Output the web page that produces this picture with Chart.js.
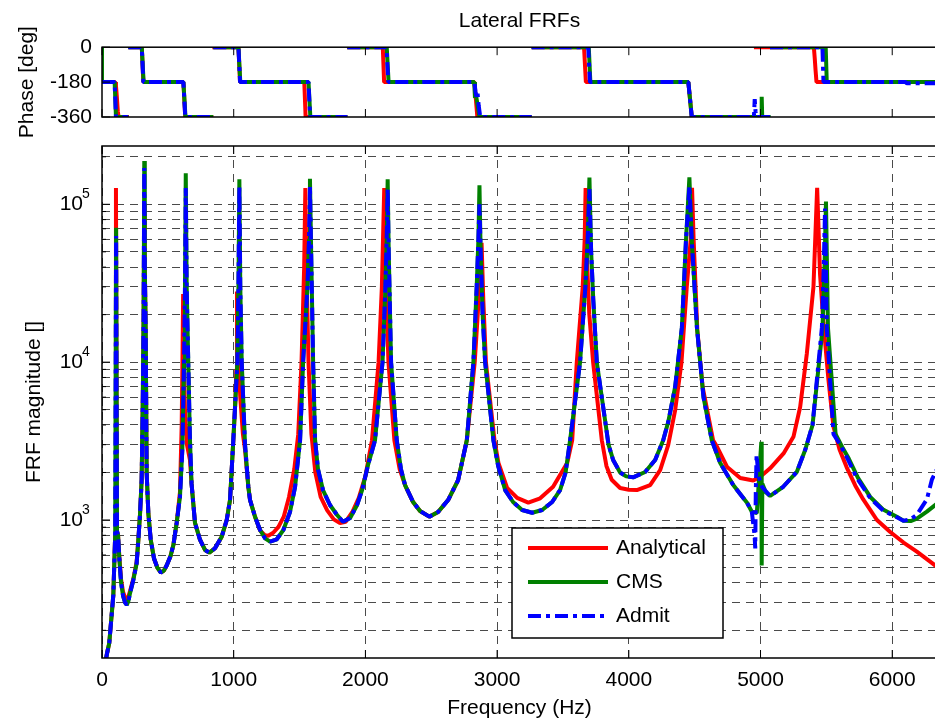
<!DOCTYPE html>
<html>
<head>
<meta charset="utf-8">
<title>Lateral FRFs</title>
<script src="https://cdn.jsdelivr.net/npm/chart.js@4.4.1/dist/chart.umd.min.js"></script>
<style>
  html, body { margin: 0; padding: 0; background: #fff; }
  #fig { position: relative; width: 935px; height: 721px; overflow: hidden; background: #fff; }
  #fig canvas { position: absolute; left: 0; }
  #phaseCanvas { top: 0; z-index: 2; }
  #magCanvas { top: 130px; z-index: 1; }
</style>
</head>
<body>
<div id="fig">
  <canvas id="phaseCanvas" width="940" height="145"></canvas>
  <canvas id="magCanvas" width="940" height="591"></canvas>
</div>
<script>
// axis ticks
const freqTicks = [0, 1000, 2000, 3000, 4000, 5000, 6000];
const phaseTicks = [-360, -180, 0];
const magLabelTicks = [1e3, 1e4, 1e5];
const magGridTicks = [200, 300, 400, 500, 600, 700, 800, 900,
  1000, 2000, 3000, 4000, 5000, 6000, 7000, 8000, 9000,
  10000, 20000, 30000, 40000, 50000, 60000, 70000, 80000, 90000,
  100000, 200000];
const magMinorTicks = magGridTicks.filter(v => !magLabelTicks.includes(v));

// phase [Hz, deg], null = wrap break
const analyticalPhase = [[0,-180],[100,-180],[106,-200],[112,-250],[120,-330],[126,-360],[205,-360],[200,null],
  [200,0],[302,0],[314,-180],[618,-180],[632,-360],[845,-360],[838,null],
  [838,0],[1036,0],[1048,-180],[1536,-180],[1546,-360],[1863,-360],[1860,null],
  [1860,0],[2132,0],[2142,-180],[2828,-180],[2850,-360],[3262,-360],[3262,null],
  [3262,0],[3660,0],[3674,-180],[4452,-180],[4478,-360],[4955,-360],[4950,null],
  [4950,0],[5405,0],[5412,-60],[5418,-120],[5425,-180],[6340,-180]];
const cmsPhase = [[0,0],[0,-180],[96,-180],[106,-360],[200,-360],[200,null],
  [200,0],[302,0],[316,-180],[618,-180],[634,-360],[845,-360],[845,null],
  [845,0],[1036,0],[1050,-180],[1568,-180],[1582,-360],[1863,-360],[1863,null],
  [1863,0],[2162,0],[2176,-180],[2826,-180],[2832,-262],[2840,-248],[2852,-300],[2866,-360],[3262,-360],[3262,null],
  [3262,0],[3696,0],[3708,-180],[4452,-180],[4478,-360],[5004,-360],[5009,-256],[5013,-360],[5077,-360],[5072,null],
  [5072,0],[5495,0],[5503,-180],[6340,-180]];
const admitPhase = [[0,-180],[96,-180],[106,-360],[200,-360],[200,null],
  [200,0],[302,0],[314,-180],[618,-180],[632,-360],[845,-360],[845,null],
  [845,0],[1036,0],[1048,-180],[1568,-180],[1580,-360],[1863,-360],[1863,null],
  [1863,0],[2160,0],[2174,-180],[2828,-180],[2836,-230],[2846,-262],[2852,-240],[2860,-300],[2872,-360],[3262,-360],[3262,null],
  [3262,0],[3692,0],[3705,-180],[4452,-180],[4478,-360],[4950,-360],[4956,-268],[4962,-330],[4966,-360],[5077,-360],[5072,null],
  [5072,0],[5470,0],[5478,-180],[6100,-180],[6110,-186],[6340,-186]];

// FRF magnitude [Hz, value]
const analyticalMag = [[28,128],[36,140],[55,166],[68,222],[86,335],[100,800],[106,127000],[114,850],[122,800],[132,580],
  [145,420],[160,350],[175,322],[188,316],[200,326],[213,355],[238,425],[263,540],[276,750],[289,1100],
  [301,1800],[310,6000],[316,20000],[321,100000],[325,40000],[332,15000],[339,2000],[352,1100],[370,750],[395,570],
  [420,500],[447,464],[470,478],[491,515],[520,590],[542,695],[567,960],[592,1500],[605,4000],[612,12000],
  [616,27000],[622,10000],[630,5000],[645,3000],[668,2400],[680,1700],[706,960],[744,750],[782,646],[815,621],
  [858,662],[909,784],[947,1000],[972,1338],[997,3200],[1012,5500],[1020,9000],[1025,28000],[1032,12000],[1050,6000],
  [1070,3500],[1086,2800],[1111,1624],[1124,1338],[1162,1049],[1200,860],[1238,800],[1263,795],[1300,830],[1340,905],
  [1380,1050],[1420,1400],[1460,2100],[1490,3500],[1515,10000],[1535,40000],[1544,127000],[1552,40000],[1568,10000],[1590,3500],
  [1620,2000],[1660,1400],[1710,1150],[1760,1010],[1807,955],[1850,975],[1900,1120],[1950,1380],[2000,1900],[2050,3200],
  [2100,10000],[2125,30000],[2143,127000],[2152,40000],[2175,10000],[2220,3200],[2260,2100],[2301,1665],[2362,1300],[2415,1140],
  [2485,1050],[2552,1124],[2628,1338],[2704,1791],[2770,3200],[2830,10000],[2860,25000],[2882,57000],[2895,25000],[2915,10000],
  [2980,3200],[3010,2300],[3076,1600],[3152,1380],[3237,1287],[3327,1372],[3425,1624],[3532,2295],[3570,3200],[3605,10000],
  [3650,30000],[3665,60000],[3672,127000],[3680,50000],[3700,20000],[3729,10000],[3795,3200],[3830,2200],[3870,1800],[3934,1594],
  [4000,1555],[4061,1549],[4162,1665],[4238,2070],[4299,2985],[4352,4970],[4400,10000],[4440,30000],[4470,60000],[4480,127000],
  [4492,60000],[4520,16000],[4560,7000],[4640,3200],[4671,2900],[4747,2165],[4846,1845],[4945,1780],[4998,1880],[5073,2125],
  [5175,2640],[5250,3365],[5301,5200],[5352,11400],[5402,30000],[5430,127000],[5452,36000],[5478,17700],[5516,7700],[5554,3900],
  [5600,2800],[5655,2150],[5720,1650],[5780,1350],[5884,1000],[5985,840],[6086,720],[6187,630],[6288,545],[6340,505]];

const cmsMag = [[28,128],[36,140],[55,166],[68,222],[86,335],[100,800],[107,71000],[114,850],[122,800],[132,560],
  [145,400],[160,330],[175,300],[188,290],[200,305],[213,344],[238,417],[263,532],[276,747],[289,1100],
  [301,1800],[310,6000],[316,20000],[321,188000],[325,40000],[332,15000],[339,2000],[352,1100],[370,750],[395,570],
  [420,500],[447,464],[470,478],[491,515],[520,590],[542,695],[567,960],[592,1400],[610,2800],[623,10000],
  [630,30000],[636,157000],[643,30000],[655,10000],[668,3200],[680,1700],[706,960],[744,750],[782,646],[815,621],
  [858,662],[909,784],[947,1000],[972,1338],[997,3200],[1028,10000],[1036,30000],[1043,144000],[1050,30000],[1061,10000],
  [1086,3000],[1111,1624],[1124,1338],[1162,1049],[1200,864],[1238,766],[1276,729],[1327,755],[1377,864],[1428,1129],
  [1466,1624],[1504,3200],[1527,10000],[1560,30000],[1572,60000],[1579,145000],[1588,50000],[1603,10000],[1618,3200],[1640,2100],
  [1678,1548],[1731,1245],[1785,1076],[1830,975],[1884,1030],[1937,1245],[1975,1548],[2020,2230],[2073,3200],[2130,10000],
  [2152,30000],[2162,60000],[2169,144000],[2177,50000],[2195,10000],[2238,3200],[2270,2100],[2301,1665],[2362,1300],[2415,1140],
  [2485,1050],[2552,1124],[2628,1338],[2704,1791],[2770,3200],[2820,10000],[2845,30000],[2858,60000],[2866,132000],[2875,50000],
  [2890,20000],[2909,10000],[2972,3200],[3008,2200],[3061,1548],[3121,1300],[3190,1157],[3266,1112],[3342,1157],[3418,1300],
  [3478,1548],[3520,2000],[3554,3200],[3630,10000],[3670,30000],[3688,60000],[3701,148000],[3714,50000],[3730,25000],[3757,10000],
  [3846,3000],[3881,2400],[3934,2000],[3980,1890],[4033,1864],[4124,2015],[4200,2400],[4261,3205],[4300,4200],[4352,7000],
  [4403,16600],[4434,59000],[4460,148000],[4478,59000],[4517,16600],[4567,6000],[4630,3200],[4694,2295],[4793,1665],[4899,1281],
  [4934,1129],[4972,1107],[5006,3130],[5009,515],[5014,1700],[5040,1500],[5073,1420],[5172,1624],[5276,2020],[5339,2775],
  [5395,4000],[5470,16000],[5486,40000],[5497,104000],[5512,16600],[5570,3500],[5620,2900],[5670,2450],[5740,1850],[5833,1400],
  [5934,1160],[6035,1050],[6085,990],[6140,985],[6187,1020],[6263,1130],[6340,1270]];

const admitMag = [[28,128],[36,140],[55,166],[68,222],[86,335],[100,800],[107,63000],[114,850],[122,800],[132,560],
  [145,400],[160,330],[175,300],[188,290],[200,305],[213,344],[238,417],[263,532],[276,747],[289,1100],
  [301,1800],[310,6000],[316,20000],[321,170000],[325,40000],[332,15000],[339,2000],[352,1100],[370,750],[395,570],
  [420,500],[447,464],[470,478],[491,515],[520,590],[542,695],[567,960],[592,1400],[610,2800],[623,10000],
  [630,30000],[636,127000],[643,30000],[655,10000],[668,3200],[680,1700],[706,960],[744,750],[782,646],[815,621],
  [858,662],[909,784],[947,1000],[972,1338],[997,3200],[1028,10000],[1036,30000],[1043,130000],[1050,30000],[1061,10000],
  [1086,3000],[1111,1624],[1124,1338],[1162,1049],[1200,864],[1238,766],[1276,729],[1327,755],[1377,864],[1428,1129],
  [1466,1624],[1504,3200],[1527,10000],[1560,30000],[1572,60000],[1579,130000],[1588,50000],[1603,10000],[1618,3200],[1640,2100],
  [1678,1548],[1731,1245],[1785,1076],[1830,975],[1884,1030],[1937,1245],[1975,1548],[2020,2230],[2073,3200],[2130,10000],
  [2152,30000],[2162,60000],[2169,125000],[2177,50000],[2195,10000],[2238,3200],[2270,2100],[2301,1665],[2362,1300],[2415,1140],
  [2485,1050],[2552,1124],[2628,1338],[2704,1791],[2770,3200],[2820,10000],[2845,30000],[2858,60000],[2866,100000],[2875,50000],
  [2890,20000],[2909,10000],[2972,3200],[3008,2200],[3061,1548],[3121,1300],[3190,1157],[3266,1112],[3342,1157],[3418,1300],
  [3478,1548],[3520,2000],[3554,3200],[3630,10000],[3670,30000],[3688,60000],[3701,125000],[3714,50000],[3730,25000],[3757,10000],
  [3846,3000],[3881,2400],[3934,2000],[3980,1890],[4033,1864],[4124,2015],[4200,2400],[4261,3205],[4300,4200],[4352,7000],
  [4403,16600],[4434,59000],[4460,130000],[4478,59000],[4517,16600],[4567,6000],[4630,3200],[4694,2295],[4793,1665],[4899,1281],
  [4934,1129],[4955,800],[4960,660],[4964,1500],[4970,2580],[4985,1900],[5010,1624],[5073,1420],[5172,1624],[5276,2020],
  [5339,2775],[5395,4000],[5466,16600],[5480,40000],[5490,94000],[5503,16600],[5554,3500],[5605,3000],[5655,2500],[5731,1845],
  [5833,1377],[5934,1143],[6035,1040],[6085,990],[6140,1010],[6187,1080],[6263,1350],[6301,1800],[6340,2100]];

const FONT = "'Liberation Sans', Arial, Helvetica, sans-serif";
const RED = '#ff0000', GREEN = '#008000', BLUE = '#0000ff';
const DASH_DOT = [13, 5, 4, 5];
const GRID_DASH = [8, 6];

Chart.defaults.font.family = FONT;
Chart.defaults.font.size = 21;
Chart.defaults.color = '#000';

function toPoints(pairs) {
  return pairs.map(p => ({ x: p[0], y: p[1] }));
}

// order: higher is drawn first, so Admit ends up on top like in matlab
function series(label, pairs, color, dash, order) {
  return {
    label: label,
    data: toPoints(pairs),
    order: order,
    borderColor: color,
    backgroundColor: color,
    borderWidth: 4,
    borderDash: dash,
    borderJoinStyle: 'bevel',
    pointRadius: 0,
    tension: 0,
    fill: false,
    spanGaps: false,
    clip: 0,
  };
}

// axes box and the inward tick marks
const framePlugin = {
  id: 'frame',
  afterDatasetsDraw(chart, args, opts) {
    const { ctx, chartArea: a } = chart;
    const xs = chart.scales.x, ys = chart.scales.y;
    ctx.save();
    ctx.setLineDash([]);
    ctx.strokeStyle = '#000';
    ctx.lineWidth = 1;
    ctx.beginPath();
    freqTicks.forEach(v => {
      const px = xs.getPixelForValue(v);
      ctx.moveTo(px, a.top); ctx.lineTo(px, a.top + 8);
      ctx.moveTo(px, a.bottom); ctx.lineTo(px, a.bottom - 8);
    });
    (opts.major || []).forEach(v => {
      const py = ys.getPixelForValue(v);
      ctx.moveTo(a.left, py); ctx.lineTo(a.left + 8, py);
    });
    (opts.minor || []).forEach(v => {
      const py = ys.getPixelForValue(v);
      ctx.moveTo(a.left, py); ctx.lineTo(a.left + 4, py);
    });
    ctx.stroke();
    ctx.lineWidth = 1.5;
    ctx.strokeRect(a.left, a.top, a.right - a.left, a.bottom - a.top);
    ctx.restore();
  }
};

// 10^n labels with a raised exponent
const powerLabels = {
  id: 'powerLabels',
  afterDraw(chart) {
    const { ctx, chartArea: a } = chart;
    const ys = chart.scales.y;
    ctx.save();
    ctx.fillStyle = '#000';
    ctx.textBaseline = 'middle';
    magLabelTicks.forEach(v => {
      const py = ys.getPixelForValue(v);
      ctx.font = '21px ' + FONT;
      ctx.textAlign = 'right';
      ctx.fillText('10', a.left - 19, py);
      ctx.font = '14px ' + FONT;
      ctx.textAlign = 'left';
      ctx.fillText(String(Math.round(Math.log10(v))), a.left - 20, py - 10);
    });
    ctx.restore();
  }
};

// boxed legend inside the axes
const boxLegend = {
  id: 'boxLegend',
  afterDraw(chart) {
    const { ctx, chartArea: a } = chart;
    const L = a.left + 410, T = a.top + 382, W = 211, H = 110;
    const rows = [20, 54, 88];
    ctx.save();
    ctx.fillStyle = '#fff';
    ctx.fillRect(L, T, W, H);
    ctx.setLineDash([]);
    ctx.strokeStyle = '#000';
    ctx.lineWidth = 1.5;
    ctx.strokeRect(L, T, W, H);
    chart.data.datasets.forEach((ds, i) => {
      const y = T + rows[i];
      ctx.beginPath();
      ctx.strokeStyle = ds.borderColor;
      ctx.lineWidth = ds.borderWidth;
      ctx.setLineDash(ds.borderDash || []);
      ctx.moveTo(L + 16, y);
      ctx.lineTo(L + 96, y);
      ctx.stroke();
      ctx.setLineDash([]);
      ctx.fillStyle = '#000';
      ctx.font = '21px ' + FONT;
      ctx.textAlign = 'left';
      ctx.textBaseline = 'middle';
      ctx.fillText(ds.label, L + 104, y);
    });
    ctx.restore();
  }
};

const phaseChart = new Chart(document.getElementById('phaseCanvas'), {
  type: 'line',
  data: {
    datasets: [
      series('Analytical', analyticalPhase, RED, [], 3),
      series('CMS', cmsPhase, GREEN, [], 2),
      series('Admit', admitPhase, BLUE, DASH_DOT, 1),
    ],
  },
  options: {
    responsive: false,
    animation: false,
    events: [],
    layout: { padding: { left: 0, right: 3, top: 0, bottom: 0 } },
    plugins: {
      legend: { display: false },
      tooltip: { enabled: false },
      title: {
        display: true,
        text: 'Lateral FRFs',
        fullSize: false,
        color: '#000',
        font: { size: 21, weight: 'normal' },
        padding: { top: 9, bottom: 13 },
      },
      frame: { major: phaseTicks },
    },
    scales: {
      x: {
        type: 'linear', min: 0, max: 6340,
        ticks: { display: false },
        grid: { display: false, drawTicks: false },
        border: { display: false },
        afterFit: (s) => { s.height = 28; },
      },
      y: {
        type: 'linear', min: -360, max: 0,
        afterBuildTicks: (s) => { s.ticks = phaseTicks.map(v => ({ value: v })); },
        ticks: { padding: 10, color: '#000', callback: (v) => String(v) },
        grid: { display: false, drawTicks: false },
        border: { display: false },
        title: { display: true, text: 'Phase [deg]', color: '#000', padding: { top: 15, bottom: 0 } },
        afterFit: (s) => { s.width = 102; },
      },
    },
  },
  plugins: [framePlugin],
});

const magChart = new Chart(document.getElementById('magCanvas'), {
  type: 'line',
  data: {
    datasets: [
      series('Analytical', analyticalMag, RED, [], 3),
      series('CMS', cmsMag, GREEN, [], 2),
      series('Admit', admitMag, BLUE, DASH_DOT, 1),
    ],
  },
  options: {
    responsive: false,
    animation: false,
    events: [],
    layout: { padding: { left: 0, right: 3, top: 16, bottom: 0 } },
    plugins: {
      legend: { display: false },
      tooltip: { enabled: false },
      frame: { major: magLabelTicks, minor: magMinorTicks },
    },
    scales: {
      x: {
        type: 'linear', min: 0, max: 6340,
        afterBuildTicks: (s) => { s.ticks = freqTicks.map(v => ({ value: v })); },
        ticks: { padding: 10, maxRotation: 0, color: '#000', callback: (v) => String(v) },
        grid: { color: '#4a4a4a', lineWidth: 1, drawTicks: false },
        border: { display: false, dash: GRID_DASH },
        title: { display: true, text: 'Frequency (Hz)', color: '#000', padding: { top: 0, bottom: 0 } },
        afterFit: (s) => { s.height = 63; },
      },
      y: {
        type: 'logarithmic', min: 133.6, max: 234100,
        afterBuildTicks: (s) => { s.ticks = magGridTicks.map(v => ({ value: v })); },
        ticks: { display: false },
        grid: { color: '#4a4a4a', lineWidth: 1, drawTicks: false },
        border: { display: false, dash: GRID_DASH },
        title: { display: true, text: 'FRF magnitude []', color: '#000', padding: { top: 22, bottom: 0 } },
        afterFit: (s) => { s.width = 102; },
      },
    },
  },
  plugins: [framePlugin, powerLabels, boxLegend],
});
</script>
</body>
</html>
